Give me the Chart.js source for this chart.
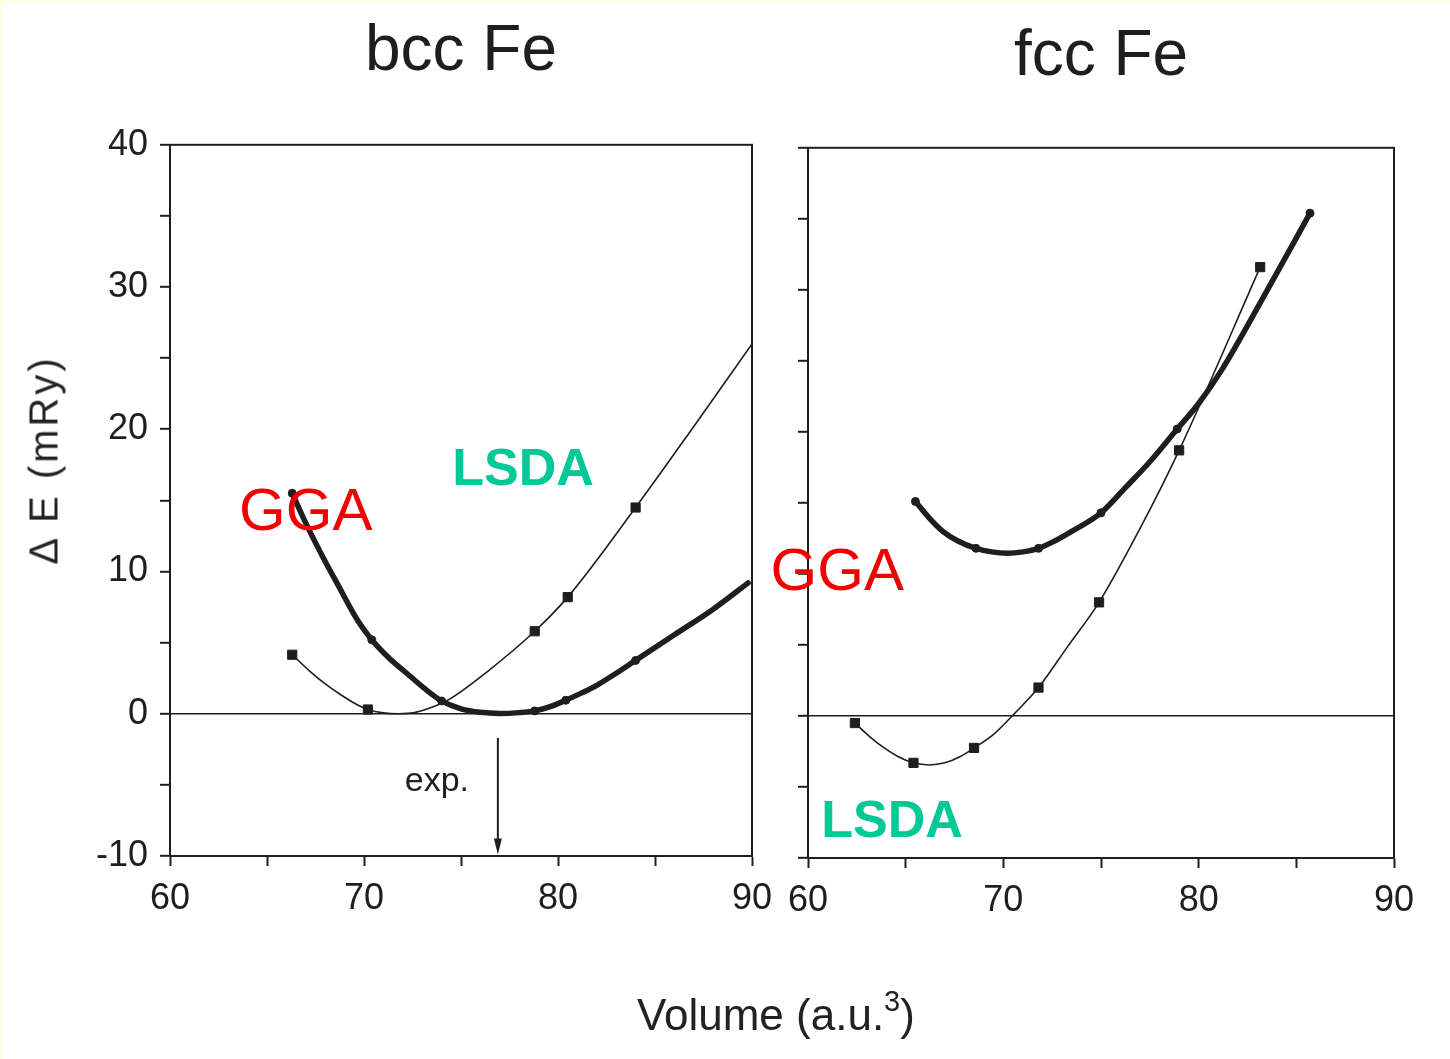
<!DOCTYPE html>
<html>
<head>
<meta charset="utf-8">
<script src="https://cdn.jsdelivr.net/npm/chart.js@4.4.1/dist/chart.umd.min.js"></script>
<style>
  html, body { margin: 0; padding: 0; background: #fff; }
  #page { position: relative; width: 1450px; height: 1059px; background: #fff; overflow: hidden; }
  .strip { position: absolute; background: #fffde2; }
  .panel { position: absolute; top: 0; height: 1059px; }
  #bccWrap { left: 0; width: 800px; }
  #fccWrap { left: 760px; width: 690px; }
  #yTitle { position: absolute; left: 44px; top: 460px; transform: translate(-50%, -50%) rotate(-90deg);
            font: 40px 'Liberation Sans', Arial, sans-serif; letter-spacing: 3px; color: #222; white-space: nowrap; }
  #xTitle { position: absolute; left: 0; width: 1552px; top: 990px; text-align: center;
            font: 44px 'Liberation Sans', Arial, sans-serif; color: #222; white-space: nowrap; }
  #xTitle sup { font-size: 29px; vertical-align: 0; position: relative; top: -19px; }
</style>
</head>
<body>
<div id="page">
  <div class="strip" style="left:0;top:0;width:1450px;height:3px"></div>
  <div class="strip" style="left:0;top:0;width:3px;height:1059px"></div>
  <div class="panel" id="bccWrap"><canvas id="bcc"></canvas></div>
  <div class="panel" id="fccWrap"><canvas id="fcc"></canvas></div>
  <div id="yTitle">Δ E (mRy)</div>
  <div id="xTitle">Volume (a.u.<sup>3</sup>)</div>
</div>
<script>
// tick labels
const xTicks = [60, 70, 80, 90];
const yTicks = [-10, 0, 10, 20, 30, 40];

// bcc Fe, GGA (thick curve) and its markers
const bccGgaV = [66.3, 67.0, 68.0, 68.6, 69.7, 70.4, 71.3, 72.2, 73.1, 74.0, 75.0, 76.0, 77.0, 78.0, 78.8, 79.6, 80.4, 81.2, 82.0, 83.0, 84.0, 86.0, 88.0, 89.8];
const bccGgaE = [15.5, 13.4, 10.7, 9.2, 6.5, 5.2, 3.9, 2.85, 1.8, 0.9, 0.35, 0.1, 0.02, 0.08, 0.2, 0.5, 0.95, 1.45, 2.0, 2.85, 3.75, 5.55, 7.35, 9.2];
const bccGgaMarkV = [66.3, 70.4, 74.0, 78.8, 80.4, 84.0];
const bccGgaMarkE = [15.5, 5.2, 0.9, 0.2, 0.95, 3.75];

// bcc Fe, LSDA (thin curve) and its markers
const bccLsdaV = [66.3, 67.2, 68.0, 68.9, 69.7, 70.2, 71.0, 71.8, 72.6, 73.5, 74.5, 76.3, 78.8, 80.5, 84.0, 87.0, 90.0];
const bccLsdaE = [4.15, 3.0, 2.1, 1.25, 0.6, 0.3, 0.06, 0, 0.08, 0.45, 1.1, 2.9, 5.8, 8.2, 14.5, 20.2, 26.0];
const bccLsdaMarkV = [66.3, 70.2, 78.8, 80.5, 84.0];
const bccLsdaMarkE = [4.15, 0.3, 5.8, 8.2, 14.5];

// fcc Fe, GGA
const fccGgaV = [65.5, 66.2, 66.9, 67.7, 68.6, 69.4, 70.2, 71.0, 71.8, 72.6, 73.5, 75.0, 76.2, 77.5, 78.9, 80.0, 81.2, 83.2, 85.7];
const fccGgaE = [15.1, 13.95, 13.0, 12.3, 11.8, 11.55, 11.45, 11.55, 11.8, 12.3, 13.0, 14.3, 16.0, 17.9, 20.2, 22.0, 24.4, 29.2, 35.4];
const fccGgaMarkV = [65.5, 68.6, 71.8, 75.0, 78.9, 85.7];
const fccGgaMarkE = [15.1, 11.8, 11.8, 14.3, 20.2, 35.4];

// fcc Fe, LSDA
const fccLsdaV = [62.4, 63.2, 63.9, 64.6, 65.4, 66.2, 67.0, 67.8, 68.5, 69.5, 70.45, 71.8, 73.3, 74.9, 77.0, 79.0, 83.15];
const fccLsdaE = [-0.5, -1.5, -2.25, -2.85, -3.3, -3.45, -3.3, -2.85, -2.25, -1.3, 0, 2.0, 4.9, 8.0, 13.2, 18.7, 31.6];
const fccLsdaMarkV = [62.4, 65.4, 68.5, 71.8, 74.9, 79.0, 83.15];
const fccLsdaMarkE = [-0.5, -3.3, -2.25, 2.0, 8.0, 18.7, 31.6];

const ink = '#1e1e1e';
const red = '#f00000';
const green = '#00c896';
const font = "'Liberation Sans', Arial, sans-serif";

const pts = (xs, ys) => xs.map((x, i) => ({ x: x, y: ys[i] }));

function curve(xs, ys, w) {
  return { data: pts(xs, ys), showLine: true, borderColor: ink, borderWidth: w, pointRadius: 0,
           cubicInterpolationMode: 'monotone', borderCapStyle: 'round', borderJoinStyle: 'round' };
}
function marks(xs, ys, style, r) {
  return { data: pts(xs, ys), showLine: false, pointStyle: style, pointRadius: r,
           backgroundColor: ink, borderColor: ink, borderWidth: 1 };
}

// frame, labels and arrow
const decor = {
  id: 'decor',
  afterDraw(chart, args, opts) {
    const c = chart.ctx, a = chart.chartArea;
    const sx = chart.scales.x, sy = chart.scales.y;
    c.save();
    c.strokeStyle = ink;
    c.lineWidth = 2;
    c.strokeRect(a.left, a.top, a.right - a.left, a.bottom - a.top);
    (opts.texts || []).forEach(t => {
      c.font = t.font;
      c.fillStyle = t.color;
      c.textAlign = t.align || 'center';
      c.textBaseline = 'alphabetic';
      c.fillText(t.text, sx.getPixelForValue(t.v), sy.getPixelForValue(t.e));
    });
    (opts.arrows || []).forEach(ar => {
      const x = sx.getPixelForValue(ar.v);
      const y0 = sy.getPixelForValue(ar.from), y1 = sy.getPixelForValue(ar.to);
      c.lineWidth = 2;
      c.beginPath(); c.moveTo(x, y0); c.lineTo(x, y1 - 10); c.stroke();
      c.fillStyle = ink;
      c.beginPath(); c.moveTo(x, y1); c.lineTo(x - 4, y1 - 16); c.lineTo(x + 4, y1 - 16); c.closePath(); c.fill();
    });
    c.restore();
  }
};

function makeChart(id, cfg) {
  return new Chart(document.getElementById(id), {
    type: 'scatter',
    data: { datasets: cfg.datasets },
    plugins: [decor],
    options: {
      responsive: true,
      maintainAspectRatio: false,
      animation: false,
      events: [],
      layout: { padding: cfg.padding },
      plugins: {
        legend: { display: false },
        tooltip: { enabled: false },
        title: { display: true, text: cfg.title, fullSize: false, color: ink,
                 font: { family: font, size: 64, weight: 'normal' }, padding: cfg.titlePad },
        decor: { texts: cfg.texts, arrows: cfg.arrows }
      },
      scales: {
        x: {
          type: 'linear', min: 60, max: 90,
          afterFit: s => { s.height = 70; },
          border: { display: true, color: ink, width: 2 },
          grid: { drawOnChartArea: false, drawTicks: true, tickLength: 10, tickColor: ink, tickWidth: 2 },
          ticks: { stepSize: 5, autoSkip: false, maxRotation: 0, padding: 11, color: ink,
                   font: { family: font, size: 36 },
                   callback: v => xTicks.includes(v) ? String(v) : '' }
        },
        y: {
          type: 'linear', min: -10, max: 40,
          afterFit: s => { s.width = cfg.yWidth; },
          border: { display: true, color: ink, width: 2 },
          grid: { drawOnChartArea: true, drawTicks: true, tickLength: 10, tickColor: ink, tickWidth: 2,
                  lineWidth: 1.6,
                  color: ctx => (ctx.tick && ctx.tick.value === 0) ? ink : 'rgba(0,0,0,0)' },
          ticks: { stepSize: 5, autoSkip: false, padding: 12, color: ink, display: cfg.yLabels,
                   font: { family: font, size: 36 },
                   callback: v => yTicks.includes(v) ? String(v) : '' }
        }
      }
    }
  });
}

makeChart('bcc', {
  title: 'bcc Fe',
  titlePad: { top: 14, bottom: 54 },
  padding: { left: 0, right: 48, top: 0, bottom: 133 },
  yWidth: 170,
  yLabels: true,
  datasets: [
    curve(bccLsdaV, bccLsdaE, 1.6),
    curve(bccGgaV, bccGgaE, 5.5),
    marks(bccLsdaMarkV, bccLsdaMarkE, 'rect', 6.5),
    marks(bccGgaMarkV, bccGgaMarkE, 'circle', 4)
  ],
  texts: [
    { text: 'GGA', v: 67.0, e: 12.9, color: red, font: "60px " + font },
    { text: 'LSDA', v: 78.2, e: 16.1, color: green, font: "bold 52px " + font },
    { text: 'exp.', v: 72.1, e: -5.4, color: ink, font: "34px " + font, align: 'left' }
  ],
  arrows: [{ v: 76.9, from: -1.7, to: -9.9 }]
});

makeChart('fcc', {
  title: 'fcc Fe',
  titlePad: { top: 19, bottom: 52 },
  padding: { left: 8, right: 56, top: 0, bottom: 131 },
  yWidth: 40,
  yLabels: false,
  datasets: [
    curve(fccLsdaV, fccLsdaE, 1.6),
    curve(fccGgaV, fccGgaE, 5.5),
    marks(fccLsdaMarkV, fccLsdaMarkE, 'rect', 6.5),
    marks(fccGgaMarkV, fccGgaMarkE, 'circle', 4)
  ],
  texts: [
    { text: 'GGA', v: 61.5, e: 8.9, color: red, font: "60px " + font },
    { text: 'LSDA', v: 64.3, e: -8.5, color: green, font: "bold 52px " + font }
  ],
  arrows: []
});
</script>
</body>
</html>
